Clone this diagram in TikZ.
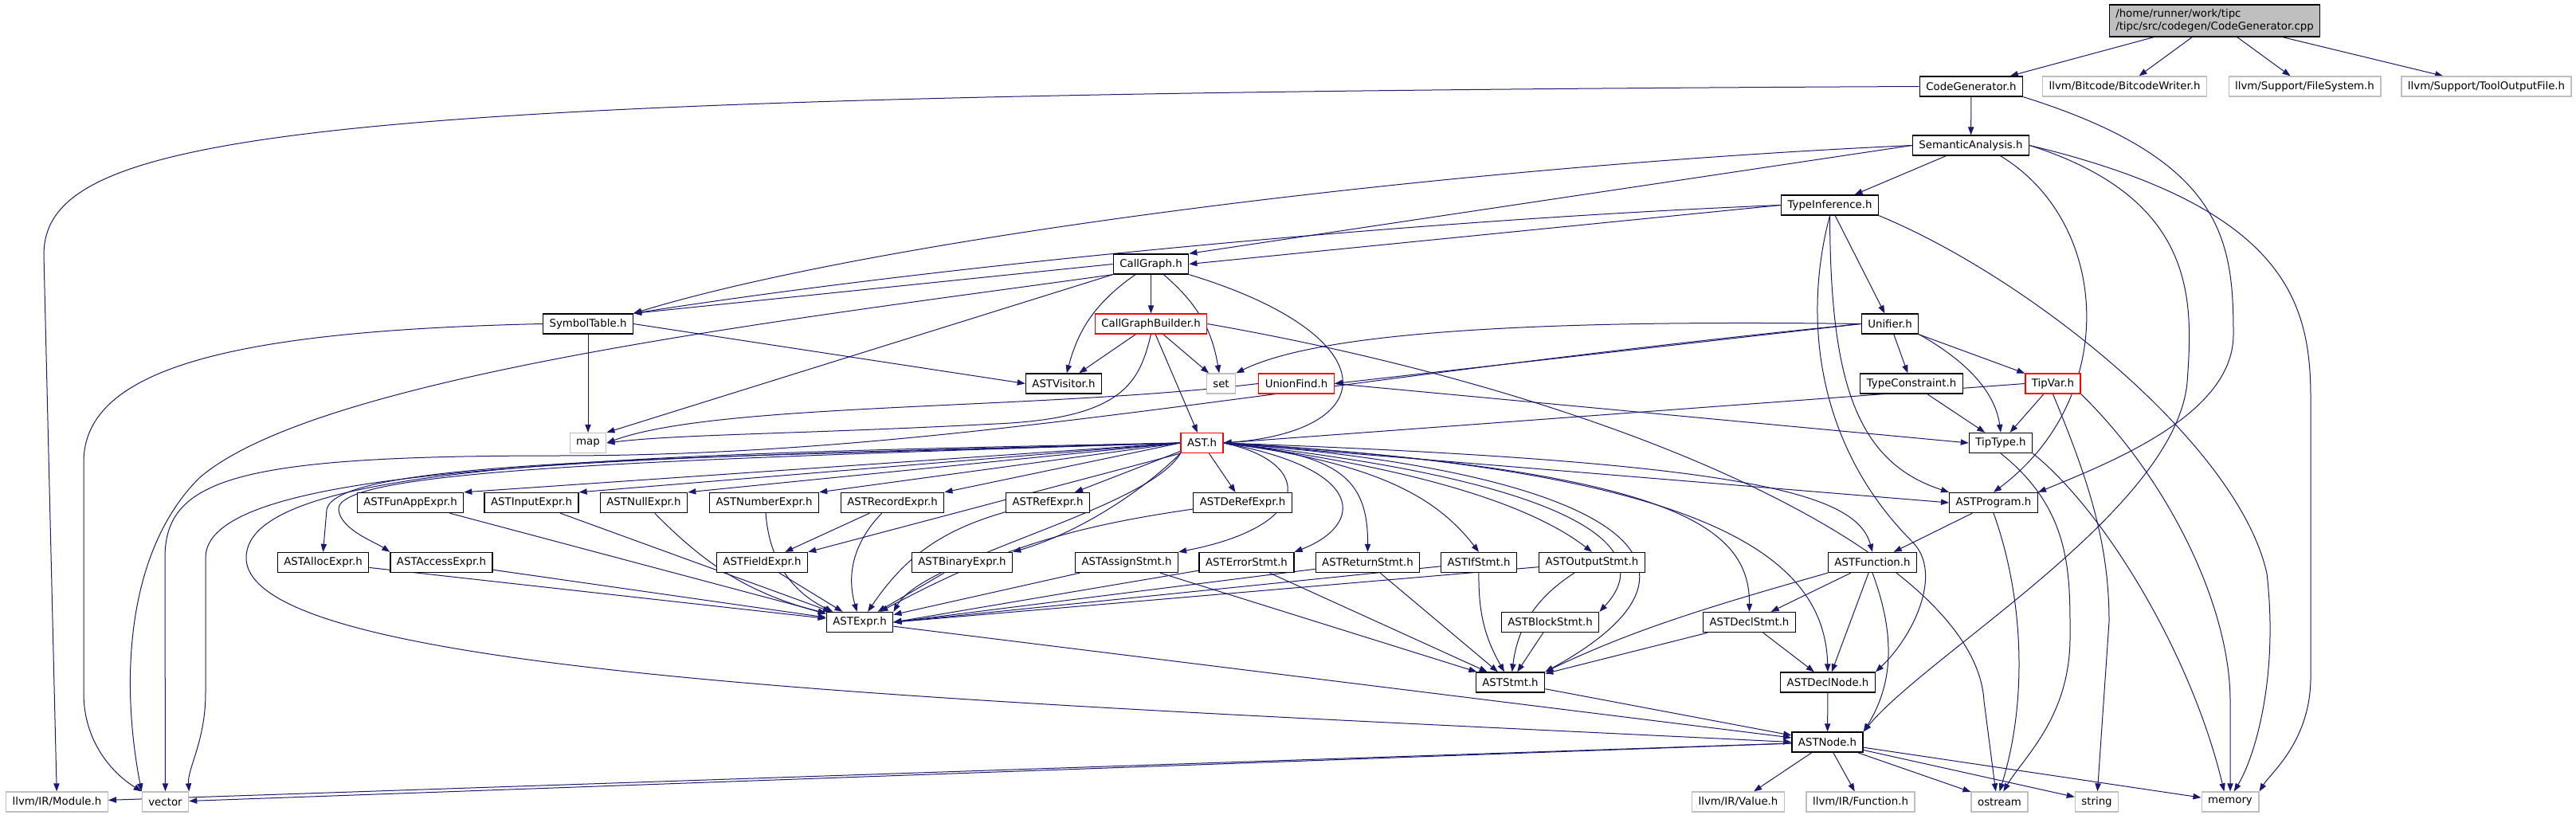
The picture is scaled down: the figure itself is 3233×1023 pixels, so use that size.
\documentclass[tikz,border=0pt]{standalone}
\usepackage{fontspec}
\setmainfont{DejaVu Sans}
\usepackage{xcolor}
\usetikzlibrary{arrows.meta, calc}
\definecolor{edgeblue}{RGB}{25,25,112}
\definecolor{extgray}{RGB}{191,191,191}
\pgfdeclarelayer{background}
\pgfsetlayers{background,main}

\begin{document}
\begin{tikzpicture}[
    x=0.75pt, y=-0.75pt,
    every node/.style={font=\fontsize{10}{12}\selectfont},
    hdr/.style={draw=black, line width=1pt, fill=white, inner xsep=6pt, inner ysep=0pt, minimum height=18.75pt},
    trunc/.style={hdr, draw=red},
    sys/.style={hdr, draw=extgray},
    src/.style={hdr, fill=extgray, align=left, minimum height=30pt},
    dep/.style={-{Triangle[length=7.5pt, width=5.5pt]}, edgeblue, line width=0.75pt},
]
\useasboundingbox (0,0) rectangle (3233,1023);

% Rows of the include graph (coordinates in pixels, y grows downwards)
\node[src] (cpp) at (2779.5,26) {/home/runner/work/tipc\\/tipc/src/codegen/CodeGenerator.cpp};

\node[hdr] (cgh) at (2474,108.5) {CodeGenerator.h};
\node[sys] (bcw) at (2666.5,108.5) {llvm/Bitcode/BitcodeWriter.h};
\node[sys] (fsys) at (2892.5,108.5) {llvm/Support/FileSystem.h};
\node[sys] (tof) at (3120.5,108.5) {llvm/Support/ToolOutputFile.h};

\node[hdr] (sema) at (2473.5,182.5) {SemanticAnalysis.h};
\node[hdr] (tinf) at (2296.5,257.5) {TypeInference.h};
\node[hdr] (cg) at (1444.5,331.5) {CallGraph.h};

\node[hdr] (symt) at (738,406.5) {SymbolTable.h};
\node[trunc] (cgb) at (1444.5,406.5) {CallGraphBuilder.h};
\node[hdr] (unif) at (2372,406.5) {Unifier.h};

\node[hdr] (vis) at (1335,481.5) {ASTVisitor.h};
\node[sys] (set) at (1532.5,481.5) {set};
\node[trunc] (uf) at (1627,481.5) {UnionFind.h};
\node[hdr] (tcon) at (2399,481.5) {TypeConstraint.h};
\node[trunc] (tvar) at (2576.5,481.5) {TipVar.h};

\node[sys] (map) at (738,556) {map};
\node[trunc] (ast) at (1508.5,556) {AST.h};
\node[hdr] (ttype) at (2511,556) {TipType.h};

\node[hdr] (funapp) at (515,631) {ASTFunAppExpr.h};
\node[hdr] (input) at (667,631) {ASTInputExpr.h};
\node[hdr] (null) at (808,631) {ASTNullExpr.h};
\node[hdr] (number) at (959,631) {ASTNumberExpr.h};
\node[hdr] (record) at (1120,631) {ASTRecordExpr.h};
\node[hdr] (ref) at (1315,631) {ASTRefExpr.h};
\node[hdr] (deref) at (1559.5,631) {ASTDeRefExpr.h};
\node[hdr] (prog) at (2502,631) {ASTProgram.h};

\node[hdr] (alloc) at (405.5,706) {ASTAllocExpr.h};
\node[hdr] (access) at (554,706) {ASTAccessExpr.h};
\node[hdr] (field) at (956.5,706) {ASTFieldExpr.h};
\node[hdr] (binary) at (1207.5,706) {ASTBinaryExpr.h};
\node[hdr] (assign) at (1414,706) {ASTAssignStmt.h};
\node[hdr] (error) at (1564.5,706) {ASTErrorStmt.h};
\node[hdr] (ret) at (1716.5,706) {ASTReturnStmt.h};
\node[hdr] (ifs) at (1856,706) {ASTIfStmt.h};
\node[hdr] (output) at (1998,706) {ASTOutputStmt.h};
\node[hdr] (func) at (2350,706) {ASTFunction.h};

\node[hdr] (expr) at (1079,781) {ASTExpr.h};
\node[hdr] (block) at (1945.5,781) {ASTBlockStmt.h};
\node[hdr] (dstmt) at (2195.5,781) {ASTDeclStmt.h};

\node[hdr] (stmt) at (1895.5,856.5) {ASTStmt.h};
\node[hdr] (dnode) at (2294,856.5) {ASTDeclNode.h};

\node[hdr] (astnode) at (2293.5,931.5) {ASTNode.h};

\node[sys] (module) at (71.5,1006.5) {llvm/IR/Module.h};
\node[sys] (vector) at (207.5,1006.5) {vector};
\node[sys] (value) at (2181.5,1006.5) {llvm/IR/Value.h};
\node[sys] (irfunc) at (2335,1006.5) {llvm/IR/Function.h};
\node[sys] (ostream) at (2509.5,1006.5) {ostream};
\node[sys] (string) at (2631.5,1006.5) {string};
\node[sys] (memory) at (2799,1006.5) {memory};

\begin{pgfonlayer}{background}
% CodeGenerator.cpp
\draw[dep] (cpp) -- (cgh);
\draw[dep] (cpp) -- (bcw);
\draw[dep] (cpp) -- (fsys);
\draw[dep] (cpp) -- (tof);

% CodeGenerator.h
\draw[dep] (cgh) -- (sema);
\draw[dep] (cgh.west) .. controls (400,118) and (55,160) .. (55,320) -- (module);
\draw[dep] (cgh.south east) .. controls (2790,200) and (2803,300) .. (2803,420) .. controls (2803,520) and (2650,580) .. (prog.north east);

% SemanticAnalysis.h
\draw[dep] (sema) -- (tinf);
\draw[dep] (sema.west) .. controls (1800,210) and (1100,300) .. (symt.north east);
\draw[dep] (sema.west) -- (cg.north east);
\draw[dep] ($(sema.south)+(37,0)$) .. controls (2650,280) and (2660,500) .. (prog.north);
\draw[dep] (sema.east) .. controls (2760,250) and (2752,380) .. (2745,480) .. controls (2730,640) and (2420,820) .. (astnode.north east);
\draw[dep] (sema.east) .. controls (2870,260) and (2900,380) .. (2900,500) -- (2900,850) .. controls (2900,930) and (2850,970) .. (memory.north east);

% TypeInference.h
\draw[dep] (tinf.west) -- (cg.east);
\draw[dep] (tinf.west) .. controls (1800,275) and (1200,330) .. (symt.north east);
\draw[dep] (tinf) -- (unif);
\draw[dep] (tinf.south) .. controls (2297,480) and (2330,580) .. (prog.north west);
\draw[dep] (tinf.south) .. controls (2262,400) and (2280,560) .. (2400,680) .. controls (2440,720) and (2400,800) .. (dnode.north east);
\draw[dep] (tinf.south east) .. controls (2550,350) and (2810,560) .. (2845,720) .. controls (2860,850) and (2830,950) .. (memory.70);

% CallGraph.h
\draw[dep] (cg.west) -- (symt.north east);
\draw[dep] (cg) -- (cgb);
\draw[dep] (cg) to[bend right=20] (vis);
\draw[dep] (cg) to[bend left=20] (set);
\draw[dep] (cg.south east) .. controls (1740,420) and (1740,540) .. (ast.east);
\draw[dep] (cg.south west) -- (map.north east);
\draw[dep] (cg.south west) .. controls (1000,400) and (400,470) .. (250,600) .. controls (160,690) and (150,850) .. (vector.north west);

% SymbolTable.h
\draw[dep] (symt) -- (map);
\draw[dep] (symt.east) -- (vis.west);
\draw[dep] (symt.west) .. controls (300,415) and (105,460) .. (105,580) -- (105,870) .. controls (105,930) and (140,970) .. (vector.north west);

% CallGraphBuilder.h
\draw[dep] (cgb) -- (vis);
\draw[dep] (cgb) -- (set);
\draw[dep] (cgb) -- (ast);
\draw[dep] (cgb.south) .. controls (1430,480) and (1410,525) .. (1250,532) .. controls (1000,545) and (850,545) .. (map.east);
\draw[dep] (cgb.east) .. controls (2050,500) and (2480,700) .. (2490,880) -- (ostream.110);

% Unifier.h
\draw[dep] (unif) -- (tcon);
\draw[dep] (unif) -- (tvar);
\draw[dep] (unif.south east) .. controls (2480,460) and (2505,500) .. (ttype.north);
\draw[dep] (unif.west) .. controls (1850,400) and (1640,425) .. (set.north east);
\draw[dep] (unif.west) -- (uf.east);
\draw[dep] (unif.west) .. controls (1600,480) and (1200,572) .. (700,572) .. controls (300,572) and (207,600) .. (207,700) -- (vector);

% UnionFind.h, TypeConstraint.h, TipVar.h, TipType.h
\draw[dep] (uf.west) .. controls (1300,515) and (900,505) .. (map.east);
\draw[dep] (uf.east) -- (ttype.west);
\draw[dep] (tcon) -- (ttype);
\draw[dep] (tvar) -- (ttype);
\draw[dep] (tvar.west) -- (ast.east);
\draw[dep] (tvar.south) .. controls (2620,600) and (2647,680) .. (2647,780) -- (string);
\draw[dep] (tvar.south east) .. controls (2720,600) and (2799,760) .. (2799,880) -- (memory);
\draw[dep] (ttype.south) .. controls (2600,640) and (2598,720) .. (2598,800) .. controls (2598,900) and (2540,950) .. (ostream.70);
\draw[dep] (ttype.south east) .. controls (2640,640) and (2750,820) .. (memory.120);

% ASTProgram.h
\draw[dep] (prog) -- (func);
\draw[dep] (prog.south) .. controls (2540,750) and (2545,880) .. (ostream.north);

% AST.h, left side
\draw[dep] (ast.west) -- (funapp.north east);
\draw[dep] (ast.west) -- (input.north east);
\draw[dep] (ast.west) -- (null.north east);
\draw[dep] (ast.west) -- (number.north east);
\draw[dep] (ast.west) -- (record.north east);
\draw[dep] (ast) -- (ref);
\draw[dep] (ast) -- (deref);
\draw[dep] (ast.west) .. controls (900,575) and (420,575) .. (410,640) -- (alloc.north);
\draw[dep] (ast.west) .. controls (800,578) and (420,590) .. (425,640) .. controls (428,665) and (470,680) .. (access.north west);
\draw[dep] (ast.south west) -- (field.north east);
\draw[dep] (ast.south west) .. controls (1430,620) and (1350,670) .. (binary.north east);
\draw[dep] (ast.south west) .. controls (1440,640) and (1160,700) .. (expr.north east);
\draw[dep] (ast.west) .. controls (800,570) and (309,580) .. (309,700) .. controls (309,850) and (1200,880) .. (astnode.west);
\draw[dep] (ast.west) .. controls (800,575) and (258,580) .. (258,700) -- (258,870) .. controls (258,930) and (235,965) .. (vector.north east);

% AST.h, right side
\draw[dep] (ast.east) .. controls (1650,580) and (1650,660) .. (assign.north east);
\draw[dep] (ast.east) .. controls (1720,590) and (1710,660) .. (error.north east);
\draw[dep] (ast.east) .. controls (1680,570) and (1717,600) .. (ret.north);
\draw[dep] (ast.east) .. controls (1720,580) and (1800,620) .. (ifs.north);
\draw[dep] (ast.east) .. controls (1800,590) and (1930,640) .. (output.north);
\draw[dep] (ast.east) .. controls (1950,600) and (2090,680) .. (block.north east);
\draw[dep] (ast.east) .. controls (2000,590) and (2200,700) .. (stmt.north east);
\draw[dep] (ast.east) .. controls (2100,590) and (2196,660) .. (dstmt.north);
\draw[dep] (ast.east) .. controls (2150,590) and (2290,700) .. (dnode.north);
\draw[dep] (ast.east) .. controls (2200,580) and (2330,620) .. (func.north);
\draw[dep] (ast.east) -- (prog.west);

% expressions into ASTExpr.h
\draw[dep] (funapp) -- (expr);
\draw[dep] (input) -- (expr);
\draw[dep] (null) to[bend right=15] (expr);
\draw[dep] (number) to[bend right=30] (expr);
\draw[dep] (record) to[bend right=30] (expr);
\draw[dep] (record) -- (field);
\draw[dep] (ref) to[bend right=20] (expr);
\draw[dep] (deref) to[bend right=10] (expr);
\draw[dep] (alloc) -- (expr);
\draw[dep] (access) -- (expr);
\draw[dep] (field) -- (expr);
\draw[dep] (binary) -- (expr);
\draw[dep] (assign) -- (expr);
\draw[dep] (error) -- (expr.east);
\draw[dep] (ret) -- (expr.east);
\draw[dep] (ifs) -- (expr.east);
\draw[dep] (output) -- (expr.east);

% statements into ASTStmt.h
\draw[dep] (assign) -- (stmt);
\draw[dep] (error) -- (stmt);
\draw[dep] (ret) -- (stmt);
\draw[dep] (ifs) to[bend right=15] (stmt);
\draw[dep] (output) to[bend right=25] (stmt);
\draw[dep] (block) -- (stmt);
\draw[dep] (dstmt) -- (stmt);
\draw[dep] (dstmt) -- (dnode);
\draw[dep] (func.south west) .. controls (2150,760) and (2050,790) .. (stmt.north east);
\draw[dep] (func) -- (dstmt);
\draw[dep] (func) -- (dnode);
\draw[dep] (func.south) .. controls (2380,800) and (2375,860) .. (astnode.north east);

% ASTNode.h
\draw[dep] (expr) -- (astnode);
\draw[dep] (stmt) -- (astnode);
\draw[dep] (dnode) -- (astnode);
\draw[dep] (astnode) -- (module);
\draw[dep] (astnode) -- (vector);
\draw[dep] (astnode) -- (value);
\draw[dep] (astnode) -- (irfunc);
\draw[dep] (astnode) -- (ostream);
\draw[dep] (astnode) -- (string);
\draw[dep] (astnode) -- (memory);
\end{pgfonlayer}
\end{tikzpicture}
\end{document}
